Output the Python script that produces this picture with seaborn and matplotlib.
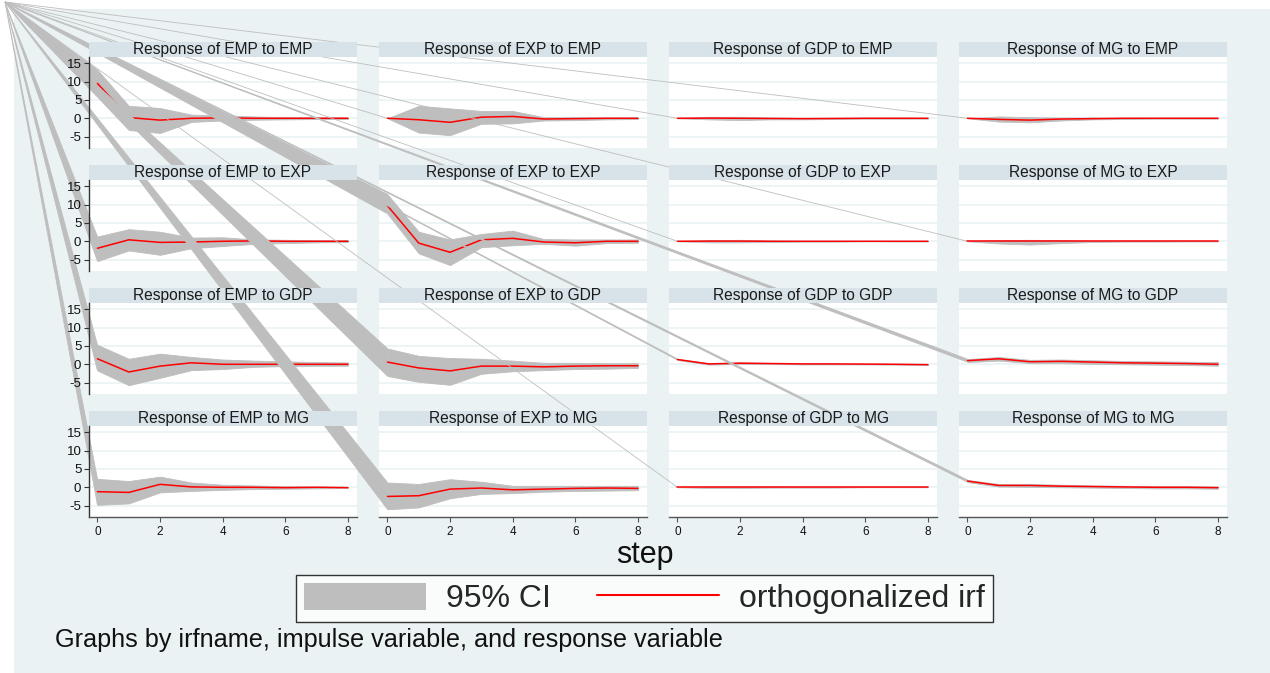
import numpy as np
import pandas as pd
import matplotlib
matplotlib.use("Agg")
import matplotlib.pyplot as plt
from matplotlib.patches import Rectangle, Polygon, Patch
from matplotlib.lines import Line2D
import seaborn as sns

sns.set_theme(style="white")
plt.rcParams['font.family'] = ['Liberation Sans', 'DejaVu Sans']
plt.rcParams['axes.unicode_minus'] = False

# ---------------- datos ---------------- #
steps = [0, 1, 2, 3, 4, 5, 6, 7, 8]
variables = ['EMP', 'EXP', 'GDP', 'MG']

# una lista por impulso, cada fila es la respuesta de EMP, EXP, GDP, MG
irf_to_EMP = [
    [9.5, 0.2, -0.5, 0.0, 0.1, 0.0, 0.0, 0.0, 0.0],
    [0.0, -0.4, -1.1, 0.3, 0.5, -0.2, -0.1, 0.0, 0.0],
    [0.0, 0.05, 0.0, -0.05, -0.1, -0.05, 0.0, 0.0, 0.0],
    [0.0, -0.3, -0.5, -0.2, -0.1, 0.0, 0.0, 0.0, 0.0],
]
hi_to_EMP = [
    [13.2, 3.4, 2.8, 1.0, 0.8, 0.5, 0.3, 0.3, 0.2],
    [0.0, 3.4, 2.7, 2.0, 2.0, 0.3, 0.3, 0.2, 0.2],
    [0.0, 0.4, 0.4, 0.2, 0.1, 0.1, 0.1, 0.1, 0.1],
    [0.0, 0.5, 0.3, 0.2, 0.2, 0.1, 0.1, 0.1, 0.1],
]
lo_to_EMP = [
    [5.8, -3.2, -4.0, -1.0, -0.6, -0.4, -0.3, -0.2, -0.2],
    [0.0, -3.9, -4.6, -1.5, -1.4, -0.6, -0.5, -0.3, -0.2],
    [0.0, -0.3, -0.5, -0.3, -0.3, -0.2, -0.1, -0.1, -0.1],
    [0.0, -0.9, -1.1, -0.6, -0.3, -0.2, -0.1, -0.1, -0.1],
]

irf_to_EXP = [
    [-1.9, 0.4, -0.3, -0.2, 0.0, 0.1, 0.0, 0.0, 0.0],
    [9.7, -0.5, -3.0, 0.4, 0.8, -0.2, -0.4, 0.0, 0.0],
    [0.0, 0.05, 0.05, 0.0, 0.0, 0.0, 0.0, 0.0, 0.0],
    [0.0, 0.0, 0.0, 0.0, 0.0, 0.0, 0.0, 0.0, 0.0],
]
hi_to_EXP = [
    [1.3, 3.3, 2.6, 1.0, 1.1, 0.5, 0.4, 0.3, 0.3],
    [12.8, 2.6, 0.5, 2.0, 2.9, 0.6, 0.5, 0.5, 0.5],
    [0.0, 0.3, 0.4, 0.2, 0.1, 0.1, 0.1, 0.0, 0.0],
    [0.0, 0.3, 0.4, 0.3, 0.1, 0.1, 0.1, 0.05, 0.05],
]
lo_to_EXP = [
    [-5.4, -2.5, -3.7, -1.9, -1.3, -0.7, -0.5, -0.3, -0.2],
    [7.5, -3.3, -6.5, -1.6, -1.1, -0.7, -1.2, -0.5, -0.4],
    [0.0, -0.3, -0.3, -0.2, -0.1, -0.1, 0.0, 0.0, 0.0],
    [0.0, -0.6, -0.9, -0.5, -0.2, -0.1, -0.1, -0.05, -0.05],
]

irf_to_GDP = [
    [1.5, -2.1, -0.5, 0.4, 0.0, 0.0, 0.0, 0.0, 0.0],
    [0.6, -1.0, -1.8, -0.5, -0.5, -0.7, -0.5, -0.4, -0.4],
    [1.3, 0.1, 0.3, 0.2, 0.1, 0.1, 0.05, 0.0, -0.1],
    [1.0, 1.5, 0.7, 0.8, 0.6, 0.4, 0.3, 0.2, 0.0],
]
hi_to_GDP = [
    [5.3, 1.5, 2.9, 2.0, 1.3, 1.0, 0.8, 0.6, 0.5],
    [4.3, 2.3, 1.7, 1.5, 1.0, 0.4, 0.4, 0.3, 0.3],
    [1.45, 0.3, 0.5, 0.35, 0.25, 0.2, 0.15, 0.1, 0.05],
    [1.4, 2.0, 1.2, 1.3, 1.1, 0.9, 0.8, 0.7, 0.6],
]
lo_to_GDP = [
    [-1.7, -5.7, -3.7, -1.6, -1.3, -0.7, -0.5, -0.4, -0.4],
    [-3.2, -4.8, -5.6, -2.6, -1.9, -1.6, -1.3, -1.2, -1.0],
    [1.15, -0.1, 0.1, 0.05, -0.05, -0.05, -0.05, -0.1, -0.25],
    [0.6, 1.0, 0.3, 0.3, 0.1, 0.0, -0.1, -0.2, -0.4],
]

irf_to_MG = [
    [-1.2, -1.4, 0.8, 0.1, 0.0, 0.0, -0.1, 0.0, -0.1],
    [-2.5, -2.3, -0.5, -0.2, -0.7, -0.5, -0.3, -0.2, -0.3],
    [0.0, 0.0, 0.0, 0.0, 0.0, 0.0, 0.0, 0.0, 0.0],
    [1.7, 0.5, 0.5, 0.3, 0.2, 0.1, 0.0, 0.0, -0.1],
]
hi_to_MG = [
    [2.3, 1.7, 2.9, 1.3, 0.7, 0.5, 0.3, 0.2, 0.1],
    [1.3, 0.9, 2.2, 1.5, 0.4, 0.4, 0.4, 0.4, 0.4],
    [0.0, 0.2, 0.2, 0.2, 0.1, 0.1, 0.1, 0.1, 0.05],
    [2.0, 0.9, 0.9, 0.7, 0.5, 0.4, 0.3, 0.3, 0.2],
]
lo_to_MG = [
    [-4.8, -4.4, -1.4, -1.0, -0.7, -0.5, -0.4, -0.3, -0.2],
    [-6.0, -5.5, -3.0, -1.8, -1.6, -1.2, -1.0, -0.9, -0.8],
    [0.0, -0.2, -0.2, -0.1, -0.1, -0.1, 0.0, 0.0, 0.0],
    [1.4, 0.2, 0.1, 0.0, -0.1, -0.2, -0.3, -0.3, -0.4],
]

irf_all = [irf_to_EMP, irf_to_EXP, irf_to_GDP, irf_to_MG]
hi_all = [hi_to_EMP, hi_to_EXP, hi_to_GDP, hi_to_MG]
lo_all = [lo_to_EMP, lo_to_EXP, lo_to_GDP, lo_to_MG]

# tabla larga para seaborn
rows = []
for i, imp in enumerate(variables):
    for j, resp in enumerate(variables):
        for k, s in enumerate(steps):
            rows.append({'impulse': imp, 'response': resp, 'step': s,
                         'irf': irf_all[i][j][k], 'lo': lo_all[i][j][k],
                         'hi': hi_all[i][j][k]})
df = pd.DataFrame(rows)

# ---------------- estilo ---------------- #
W, H = 1270, 673
region_color = '#EAF2F3'
strip_color = '#D7E3E9'
grid_color = '#EAF2F3'
ci_color = '#BEBEBE'
axis_color = '#333333'

col_left = [89, 379, 669, 959]
col_w = 268
row_top = [57, 180, 303, 426]
row_h = 91
strip_h = 15
corner_px = (5, 2)
XLIM = (-0.27, 8.29)
YLIM = (-8.1, 16.7)


def px_rect(x0, y0, w, h):
    return [x0 / W, 1 - (y0 + h) / H, w / W, h / H]


fig = plt.figure(figsize=(W / 100, H / 100), dpi=100)
fig.patch.set_facecolor('white')
fig.add_artist(Rectangle((14 / W, 0), 1 - 14 / W, 1 - 9 / H,
                         transform=fig.transFigure, facecolor=region_color,
                         edgecolor='none', zorder=-5))

corner_fig = (corner_px[0] / W, 1 - corner_px[1] / H)

# 1) paneles: fondo, grilla, IC (con la cuña desde la esquina) y la irf
for i, imp in enumerate(variables):
    for j, resp in enumerate(variables):
        ax = fig.add_axes(px_rect(col_left[j], row_top[i], col_w, row_h))
        ax.set_facecolor('white')
        ax.set_xlim(*XLIM)
        ax.set_ylim(*YLIM)
        ax.set_yticks([-5, 0, 5, 10, 15])
        ax.grid(axis='y', color=grid_color, lw=1.2)
        ax.grid(axis='x', visible=False)
        ax.set_axisbelow(True)
        ax.tick_params(left=False, bottom=False, labelleft=False, labelbottom=False)
        for sp in ax.spines.values():
            sp.set_visible(False)

        d = df[(df.impulse == imp) & (df.response == resp)]

        to_fig = ax.transData + fig.transFigure.inverted()
        p_hi = to_fig.transform((d.step.iloc[0], d.hi.iloc[0]))
        p_lo = to_fig.transform((d.step.iloc[0], d.lo.iloc[0]))
        ax.add_patch(Polygon([corner_fig, p_hi, p_lo], closed=True,
                             transform=fig.transFigure, facecolor=ci_color,
                             edgecolor=ci_color, lw=0.6, clip_on=False, zorder=1))
        ax.fill_between(d.step, d.lo, d.hi, color=ci_color, lw=0.6,
                        edgecolor=ci_color, zorder=1)
        sns.lineplot(data=d, x='step', y='irf', color='red', lw=1.1, ax=ax,
                     legend=False, zorder=2)
        ax.set_xlim(*XLIM)
        ax.set_ylim(*YLIM)
        ax.set_xlabel('')
        ax.set_ylabel('')

# 2) capa superior: franjas de titulo y ejes
for i, imp in enumerate(variables):
    for j, resp in enumerate(variables):
        ov = fig.add_axes(px_rect(col_left[j], row_top[i], col_w, row_h))
        ov.patch.set_alpha(0)
        ov.set_xlim(*XLIM)
        ov.set_ylim(*YLIM)
        ov.set_yticks([-5, 0, 5, 10, 15])
        ov.set_xticks([0, 2, 4, 6, 8])
        ov.grid(False)
        for sp in ov.spines.values():
            sp.set_visible(False)
        ov.add_patch(Rectangle((0, 1), 1, strip_h / row_h, transform=ov.transAxes,
                               facecolor=strip_color, edgecolor='none',
                               clip_on=False))
        ov.text(0.5, 1 + strip_h / row_h / 2, f'Response of {resp} to {imp}',
                transform=ov.transAxes, ha='center', va='center',
                fontsize=11.2, color='#1a1a1a')
        if j == 0:
            ov.spines['left'].set_visible(True)
            ov.spines['left'].set_color(axis_color)
            ov.spines['left'].set_linewidth(1.0)
            ov.tick_params(axis='y', left=True, length=3.5, width=0.8,
                           color=axis_color, labelsize=9.5, pad=2,
                           labelcolor='#111111')
        else:
            ov.tick_params(axis='y', left=False, labelleft=False)
        if i == 3:
            ov.spines['bottom'].set_visible(True)
            ov.spines['bottom'].set_color('#555555')
            ov.spines['bottom'].set_linewidth(1.0)
            ov.tick_params(axis='x', bottom=True, length=3.5, width=0.8,
                           color='#555555', labelsize=8.5, pad=3,
                           labelcolor='#111111')
        else:
            ov.tick_params(axis='x', bottom=False, labelbottom=False)

fig.text(645 / W, 1 - 555 / H, 'step', ha='center', va='center',
         fontsize=22, color='#111111')

handles = [Patch(facecolor=ci_color, edgecolor='none'),
           Line2D([0], [0], color='red', lw=1.5)]
leg = fig.legend(handles, ['95% CI', 'orthogonalized irf'], ncol=2,
                 loc='center', bbox_to_anchor=(644.5 / W, 1 - 598.5 / H),
                 fontsize=23, frameon=True, fancybox=False, edgecolor='black',
                 handlelength=3.8, handleheight=0.97, handletextpad=0.63,
                 columnspacing=1.47, borderpad=0.25)
leg.get_frame().set_linewidth(1.0)
leg.get_frame().set_facecolor('white')

fig.text(55 / W, 1 - 640 / H,
         'Graphs by irfname, impulse variable, and response variable',
         ha='left', va='center', fontsize=18.2, color='#111111')

fig.savefig('out.png', dpi=100)
